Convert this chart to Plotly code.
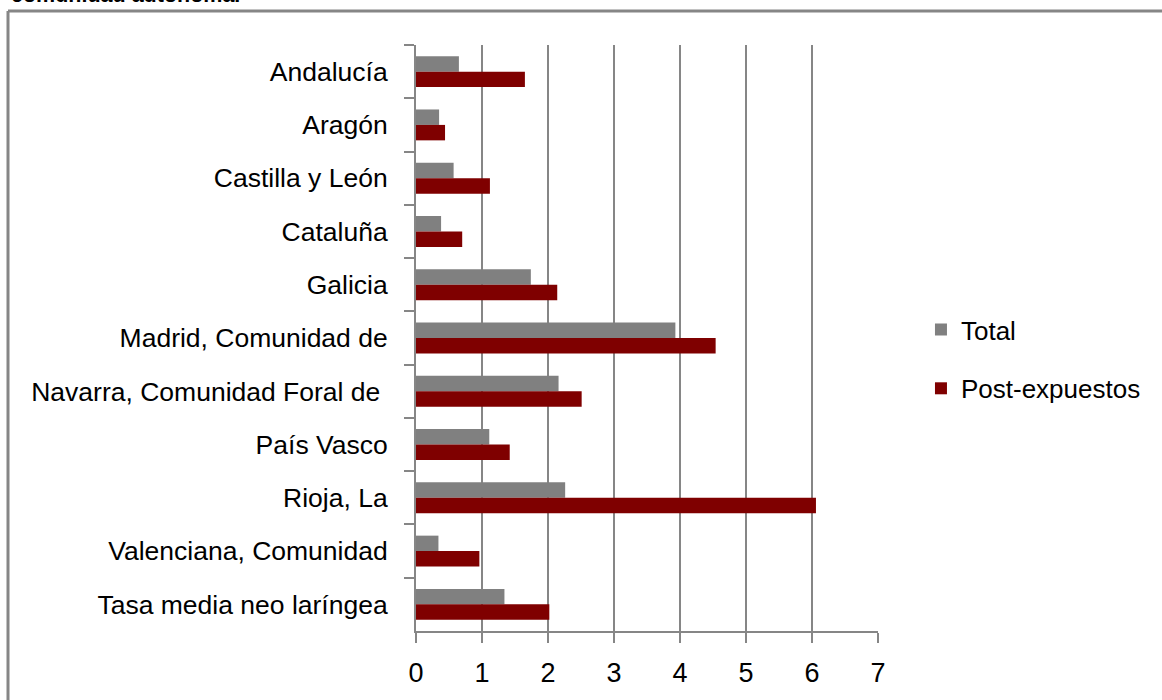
import plotly.graph_objects as go

# Categories (top to bottom) and rates per series
categorias = [
    "Andalucía",
    "Aragón",
    "Castilla y León",
    "Cataluña",
    "Galicia",
    "Madrid, Comunidad de",
    "Navarra, Comunidad Foral de\u00a0",
    "País Vasco",
    "Rioja, La",
    "Valenciana, Comunidad",
    "Tasa media neo laríngea",
]
total = [0.65, 0.35, 0.57, 0.38, 1.74, 3.93, 2.16, 1.11, 2.26, 0.34, 1.34]
post_expuestos = [1.65, 0.44, 1.12, 0.70, 2.14, 4.54, 2.51, 1.42, 6.06, 0.96, 2.02]
x_ticks = [0, 1, 2, 3, 4, 5, 6, 7]

FONT = "Liberation Sans, Arial, sans-serif"
GRID = "#868686"

fig = go.Figure()
fig.add_trace(go.Bar(
    y=categorias, x=total, orientation="h", name="Total",
    marker=dict(color="#808080", line=dict(width=0)),
    legendgroup="a",
))
fig.add_trace(go.Bar(
    y=categorias, x=post_expuestos, orientation="h", name="Post-expuestos",
    marker=dict(color="#7F0000", line=dict(width=0)),
    legendgroup="b",
))

W, H = 1162, 700
L, R, T, B = 416, 284, 45, 69
PW, PH = W - L - R, H - T - B

fig.update_layout(
    width=W, height=H,
    margin=dict(l=L, r=R, t=T, b=B, pad=0),
    paper_bgcolor="white", plot_bgcolor="white",
    barmode="group", bargap=0.42, bargroupgap=0.0,
    font=dict(family=FONT, size=26, color="black"),
    showlegend=True,
    legend=dict(
        x=1.093, y=0.464, xanchor="left", yanchor="middle",
        font=dict(family=FONT, size=26, color="black"),
        traceorder="grouped", tracegroupgap=22,
        itemwidth=30, bgcolor="rgba(0,0,0,0)",
    ),
    xaxis=dict(
        range=[0, 7], tickvals=x_ticks, ticktext=[str(v) for v in x_ticks],
        showgrid=True, gridcolor=GRID, gridwidth=2,
        showline=True, linecolor=GRID, linewidth=2,
        ticks="outside", ticklen=10, tickcolor=GRID, tickwidth=2,
        tickfont=dict(family=FONT, size=27), ticklabelstandoff=7,
        zeroline=False, fixedrange=True,
    ),
    yaxis=dict(
        autorange="reversed", type="category",
        showgrid=False, showline=True, linecolor=GRID, linewidth=2,
        ticks="outside", ticklen=10, tickcolor=GRID, tickwidth=2,
        tickson="boundaries", tickfont=dict(family=FONT, size=26.5),
        ticklabelstandoff=21, fixedrange=True,
    ),
)

# Outer frame and clipped heading above it
fig.add_shape(type="line", xref="paper", yref="paper",
              x0=(8 - L) / PW, x1=(1165 - L) / PW,
              y0=1 + (T - 11) / PH, y1=1 + (T - 11) / PH,
              line=dict(color=GRID, width=3))
fig.add_shape(type="line", xref="paper", yref="paper",
              x0=(8 - L) / PW, x1=(8 - L) / PW,
              y0=1 + (T - 11) / PH, y1=-(B + 5) / PH,
              line=dict(color=GRID, width=3))
fig.add_annotation(
    text="<b>comunidad autónoma.</b>", xref="paper", yref="paper",
    x=(9 - L) / PW, y=1 + (T - 9) / PH,
    xanchor="left", yanchor="bottom", showarrow=False,
    font=dict(family=FONT, size=21.5, color="black"),
)

fig.write_html("out.html")
